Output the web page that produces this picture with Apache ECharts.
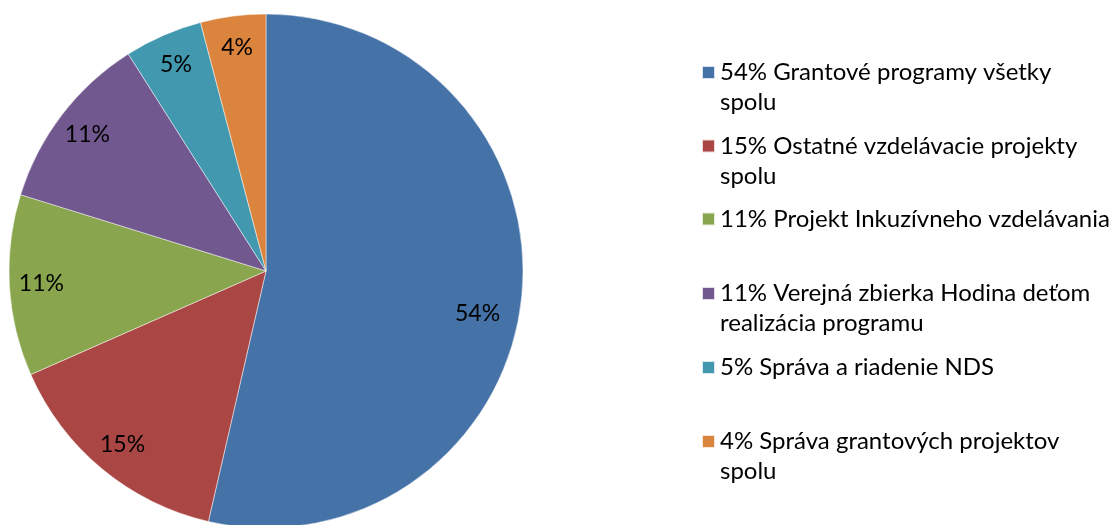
<!DOCTYPE html>
<html>
<head>
<meta charset="utf-8">
<script src="https://cdn.jsdelivr.net/npm/echarts@6/dist/echarts.min.js"></script>
<style>
html,body{margin:0;padding:0;background:#fff;}
#chart{width:1114px;height:525px;}
</style>
</head>
<body>
<div id="chart"></div>
<script>
const categories = [
  '54% Grantové programy všetky spolu',
  '15% Ostatné vzdelávacie projekty spolu',
  '11% Projekt Inkuzívneho vzdelávania',
  '11% Verejná zbierka Hodina deťom realizácia programu',
  '5% Správa a riadenie NDS',
  '4% Správa grantových projektov spolu'
];
const legendLines = [
  ['54% Grantové programy všetky', 'spolu'],
  ['15% Ostatné vzdelávacie projekty', 'spolu'],
  ['11% Projekt Inkuzívneho vzdelávania'],
  ['11% Verejná zbierka Hodina deťom', 'realizácia programu'],
  ['5% Správa a riadenie NDS'],
  ['4% Správa grantových projektov', 'spolu']
];
const values = [53.6, 14.8, 11.4, 11.2, 4.9, 4.1];
const colors = ['#4572A7', '#AA4643', '#89A54E', '#71588F', '#4198AF', '#DB843D'];

const FONT = 'Lato';
const LEG_FS = 24;
const LAB_FS = 23;
const LH = 30;
const iconCenters = [72.5, 146, 219, 293.5, 367.5, 441.5];

const data = categories.map((n, i) => ({ name: n, value: values[i] }));
const labelData = categories.map((n, i) => {
  const d = { name: n, value: values[i] };
  if (i === 0) d.label = { offset: [-12, 17] };
  return d;
});

const legends = categories.map((n, i) => {
  const multi = legendLines[i].length > 1;
  const lines = multi ? [''].concat(legendLines[i]) : legendLines[i];
  return {
    data: [n],
    orient: 'vertical',
    left: 701,
    top: iconCenters[i] - (multi ? LH * 1.5 : LH / 2),
    padding: 0,
    itemWidth: 13,
    itemHeight: 13,
    itemGap: 0,
    icon: 'rect',
    selectedMode: false,
    formatter: () => lines.join('\n'),
    textStyle: {
      fontFamily: FONT,
      fontSize: LEG_FS,
      lineHeight: LH,
      color: '#000'
    }
  };
});

const chart = echarts.init(document.getElementById('chart'), null, { renderer: 'canvas' });
chart.setOption({
  animation: false,
  color: colors,
  legend: legends,
  series: [
    {
      type: 'pie',
      center: [266, 271],
      radius: [0, 257],
      startAngle: 90,
      clockwise: true,
      silent: true,
      label: { show: false },
      labelLine: { show: false },
      itemStyle: { borderColor: 'rgba(255,255,255,0.8)', borderWidth: 0.6 },
      data: data
    },
    {
      type: 'pie',
      center: [266, 271],
      radius: [187, 257],
      startAngle: 90,
      clockwise: true,
      silent: true,
      itemStyle: { color: 'rgba(0,0,0,0)', borderWidth: 0 },
      label: {
        show: true,
        position: 'inside',
        fontFamily: FONT,
        fontSize: LAB_FS,
        color: '#000',
        formatter: p => Math.round(p.percent) + '%'
      },
      labelLine: { show: false },
      data: labelData
    }
  ]
});
</script>
</body>
</html>
